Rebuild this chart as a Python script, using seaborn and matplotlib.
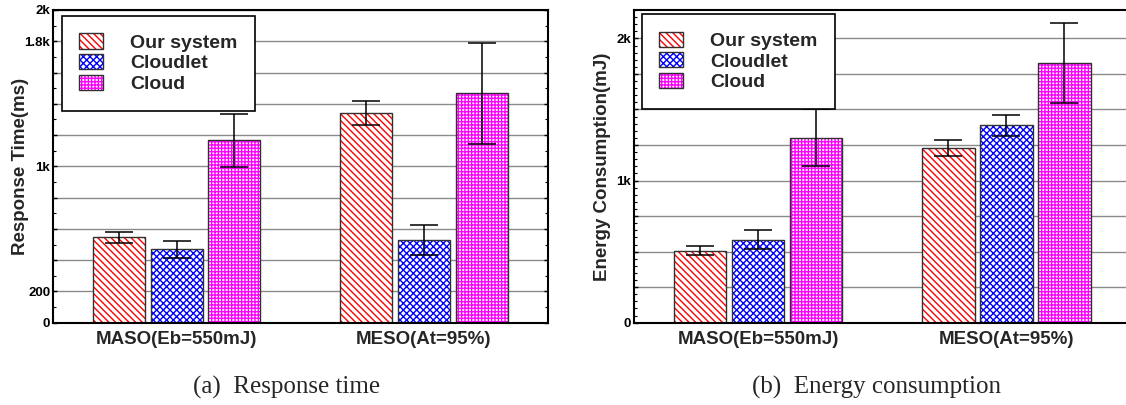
import numpy as np
import pandas as pd
import matplotlib
matplotlib.use("Agg")
import matplotlib.pyplot as plt
import seaborn as sns
from matplotlib.patches import Rectangle, Patch
from matplotlib.ticker import FixedLocator, FixedFormatter, MultipleLocator

# ---------------- data ----------------
groups = ["MASO(Eb=550mJ)", "MESO(At=95%)"]
systems = ["Our system", "Cloudlet", "Cloud"]

resp_our = [546, 1343]
resp_cloudlet = [470, 527]
resp_cloud = [1168, 1467]
resp_err_our = [34, 77]
resp_err_cloudlet = [53, 97]
resp_err_cloud = [170, 321]

energy_our = [507, 1232]
energy_cloudlet = [585, 1390]
energy_cloud = [1300, 1826]
energy_err_our = [32, 56]
energy_err_cloudlet = [68, 74]
energy_err_cloud = [200, 280]

resp_yticks = [0, 200, 400, 600, 800, 1000, 1200, 1400, 1600, 1800, 2000]
resp_yticklabels = ["0", "200", "", "", "", "1k", "", "", "", "1.8k", "2k"]
energy_yticks = [0, 250, 500, 750, 1000, 1250, 1500, 1750, 2000]
energy_yticklabels = ["0", "", "", "", "1k", "", "", "", "2k"]

ylabels = ["Response Time(ms)", "Energy Consumption(mJ)"]
captions = ["(a)  Response time", "(b)  Energy consumption"]

# ---------------- style ----------------
hatch_colors = {"Our system": "#ff0000", "Cloudlet": "#0000ff", "Cloud": "#ff00ff"}
hatches = {"Our system": "\\\\\\\\\\", "Cloudlet": "xxxxx", "Cloud": "+++++"}

sns.set_style("white")
plt.rcParams["font.family"] = ["Liberation Sans", "DejaVu Sans"]
plt.rcParams["hatch.linewidth"] = 1.0

fig = plt.figure(figsize=(11.26, 4.05), dpi=100)
ax1 = fig.add_axes([53 / 1126, 82.3 / 405, 494.6 / 1126, 312.7 / 405])
ax2 = fig.add_axes([633.7 / 1126, 82.3 / 405, 497 / 1126, 312.7 / 405])


def make_df(our, cloudlet, cloud):
    rows = []
    for sys_name, vals in zip(systems, [our, cloudlet, cloud]):
        for g, v in zip(groups, vals):
            rows.append({"group": g, "system": sys_name, "value": v})
    return pd.DataFrame(rows)


def panel(ax, df, errs, yticks, yticklabels, ylim, minor_step, ylabel,
          label_x, legend_anchor):
    sns.barplot(data=df, x="group", y="value", hue="system",
                order=groups, hue_order=systems, palette=hatch_colors,
                width=0.7, gap=0.1, errorbar=None, legend=False,
                saturation=1, linewidth=0, ax=ax)
    for container, sys_name in zip(ax.containers, systems):
        for patch, err in zip(container.patches, errs[sys_name]):
            patch.set_facecolor("white")
            patch.set_edgecolor(hatch_colors[sys_name])
            patch.set_linewidth(0)
            patch.set_hatch(hatches[sys_name])
            ax.add_patch(Rectangle(patch.get_xy(), patch.get_width(),
                                   patch.get_height(), fill=False,
                                   edgecolor="#303030", linewidth=1.0,
                                   zorder=patch.get_zorder() + 0.1))
            xc = patch.get_x() + patch.get_width() / 2
            ax.errorbar(xc, patch.get_height(), yerr=err, fmt="none",
                        ecolor="black", elinewidth=1.1, capsize=10,
                        capthick=1.1, zorder=5)

    ax.set_xlim(-0.5, 1.5)
    ax.set_ylim(*ylim)
    ax.yaxis.set_major_locator(FixedLocator(yticks))
    ax.yaxis.set_major_formatter(FixedFormatter(yticklabels))
    ax.yaxis.set_minor_locator(MultipleLocator(minor_step))
    ax.set_axisbelow(True)
    ax.yaxis.grid(True, which="major", color="#8a8a8a", linewidth=1.0)
    ax.xaxis.grid(False)

    for s in ax.spines.values():
        s.set_visible(True)
        s.set_color("black")
        s.set_linewidth(1.5)

    ax.tick_params(axis="y", which="both", direction="in", left=True,
                   right=True, labelsize=9.5, pad=2, colors="black")
    ax.tick_params(axis="y", which="major", length=3, width=1)
    ax.tick_params(axis="y", which="minor", length=2, width=0.8)
    ax.tick_params(axis="x", length=0, labelsize=13.5, pad=6)
    for t in ax.get_yticklabels():
        t.set_fontweight("bold")
    for t in ax.get_xticklabels():
        t.set_fontweight("bold")

    ax.set_xlabel("")
    ax.set_ylabel(ylabel, fontsize=13.5, fontweight="bold")
    ax.yaxis.set_label_coords(label_x, 0.5)

    handles = []
    for sys_name in systems:
        h_fill = Patch(facecolor="white", edgecolor=hatch_colors[sys_name],
                       linewidth=0, hatch=hatches[sys_name])
        h_line = Patch(facecolor="none", edgecolor="#303030", linewidth=1.0)
        handles.append((h_fill, h_line))
    leg = ax.legend(handles, systems, loc="upper left",
                    bbox_to_anchor=legend_anchor, borderaxespad=0,
                    frameon=True, fancybox=False, framealpha=1,
                    edgecolor="black",
                    prop={"weight": "bold", "size": 14},
                    handlelength=1.2, handleheight=0.82,
                    handletextpad=1.4, labelspacing=0.12, borderpad=0.9)
    leg.get_frame().set_linewidth(1.2)
    leg.set_zorder(10)


resp_df = make_df(resp_our, resp_cloudlet, resp_cloud)
resp_errs = {"Our system": resp_err_our, "Cloudlet": resp_err_cloudlet,
             "Cloud": resp_err_cloud}
energy_df = make_df(energy_our, energy_cloudlet, energy_cloud)
energy_errs = {"Our system": energy_err_our, "Cloudlet": energy_err_cloudlet,
               "Cloud": energy_err_cloud}

panel(ax1, resp_df, resp_errs, resp_yticks, resp_yticklabels, (0, 2000), 100,
      ylabels[0], -0.0485, (0.0176, 0.981))
panel(ax2, energy_df, energy_errs, energy_yticks, energy_yticklabels,
      (0, 2200), 50, ylabels[1], -0.0457, (0.0167, 0.987))

fig.text(287 / 1126, 1 - 387 / 405, captions[0], ha="center", va="center",
         fontsize=18, family=["Liberation Serif", "DejaVu Serif"])
fig.text(876 / 1126, 1 - 387 / 405, captions[1], ha="center", va="center",
         fontsize=18, family=["Liberation Serif", "DejaVu Serif"])

fig.savefig("out.png", dpi=100)
